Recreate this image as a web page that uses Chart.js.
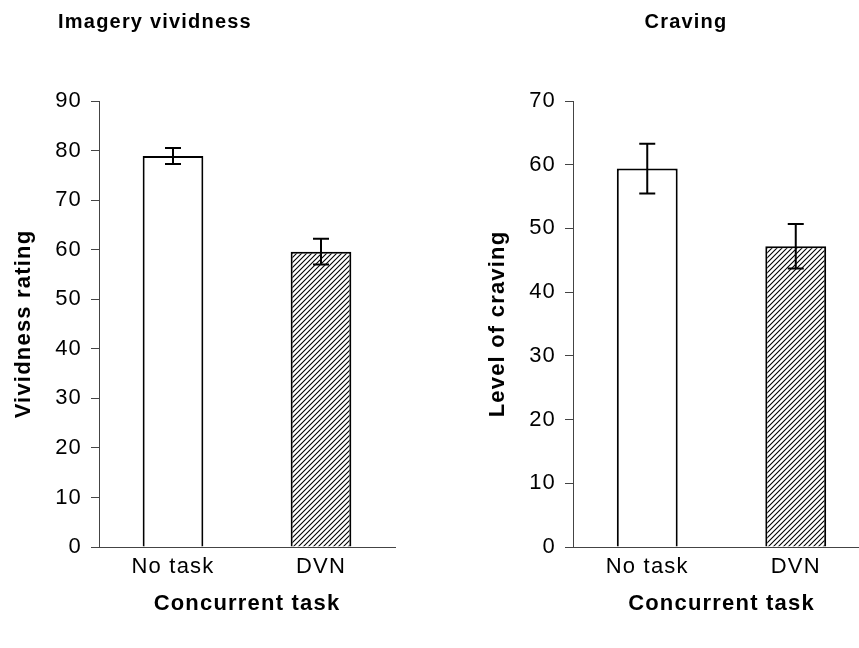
<!DOCTYPE html>
<html>
<head>
<meta charset="utf-8">
<script src="https://cdn.jsdelivr.net/npm/chart.js@4/dist/chart.umd.min.js"></script>
<style>
  html, body { margin: 0; padding: 0; background: #fff; overflow: hidden; width: 859px; height: 648px; }
  .wrap { position: absolute; top: 0; height: 648px; }
  #w1 { left: 0; width: 430px; }
  #w2 { left: 430px; width: 470px; }
</style>
</head>
<body>
<div class="wrap" id="w1"><canvas id="c1"></canvas></div>
<div class="wrap" id="w2"><canvas id="c2"></canvas></div>
<script>
// ---- data ----
const categories = ["No task", "DVN"];
const vividnessTitle = "Imagery vividness";
const cravingTitle = "Craving";
const vividnessMeans = [78.9, 59.6];
const vividnessErrors = [1.6, 2.6];
const cravingMeans = [59.4, 47.2];
const cravingErrors = [3.9, 3.5];
const xAxisLabel = "Concurrent task";
const vividnessAxisLabel = "Vividness rating";
const cravingAxisLabel = "Level of craving";
const vividnessMax = 90;
const cravingMax = 70;
const tickStep = 10;

const FONT = "'Liberation Sans', Arial, sans-serif";
const SPACING = '1.2px';

function hatchPattern() {
  const s = 5;
  const c = document.createElement('canvas');
  c.width = s; c.height = s;
  const g = c.getContext('2d');
  g.fillStyle = '#fff';
  g.fillRect(0, 0, s, s);
  g.strokeStyle = '#000';
  g.lineWidth = 1.1;
  g.beginPath();
  g.moveTo(0, s); g.lineTo(s, 0);
  g.moveTo(-1, 1); g.lineTo(1, -1);
  g.moveTo(s - 1, s + 1); g.lineTo(s + 1, s - 1);
  g.stroke();
  return g.createPattern(c, 'repeat');
}

const spacingPlugin = {
  id: 'textSpacing',
  beforeLayout(chart) { if ('letterSpacing' in chart.ctx) chart.ctx.letterSpacing = SPACING; },
  beforeDraw(chart) { if ('letterSpacing' in chart.ctx) chart.ctx.letterSpacing = SPACING; }
};

const errorBarPlugin = {
  id: 'errorBars',
  afterDatasetsDraw(chart, args, opts) {
    const ctx = chart.ctx;
    const meta = chart.getDatasetMeta(0);
    const y = chart.scales.y;
    const errs = opts.errors;
    const vals = chart.data.datasets[0].data;
    ctx.save();
    ctx.strokeStyle = '#000';
    ctx.lineWidth = 2;
    meta.data.forEach((bar, i) => {
      const x = bar.x;
      const yHi = y.getPixelForValue(vals[i] + errs[i]);
      const yLo = y.getPixelForValue(vals[i] - errs[i]);
      const hw = 8;
      ctx.beginPath();
      ctx.moveTo(x, yHi); ctx.lineTo(x, yLo);
      ctx.moveTo(x - hw, yHi); ctx.lineTo(x + hw, yHi);
      ctx.moveTo(x - hw, yLo); ctx.lineTo(x + hw, yLo);
      ctx.stroke();
    });
    ctx.restore();
  }
};

const titlePlugin = {
  id: 'panelTitle',
  afterDraw(chart, args, opts) {
    const ctx = chart.ctx;
    ctx.save();
    ctx.font = 'bold 20px ' + FONT;
    ctx.fillStyle = '#000';
    ctx.textAlign = 'center';
    ctx.textBaseline = 'middle';
    ctx.fillText(opts.text, opts.x, opts.y);
    ctx.restore();
  }
};

function makeChart(id, means, errs, max, yLabel, title, pad, yWidth, titleX) {
  return new Chart(document.getElementById(id), {
    type: 'bar',
    data: {
      labels: categories,
      datasets: [{
        data: means,
        backgroundColor: ['#ffffff', hatchPattern()],
        borderColor: '#000',
        borderWidth: 2,
        borderSkipped: 'start',
        barPercentage: 0.41,
        categoryPercentage: 1.0
      }]
    },
    options: {
      responsive: true,
      maintainAspectRatio: false,
      animation: false,
      layout: { padding: pad },
      plugins: {
        legend: { display: false },
        tooltip: { enabled: false },
        errorBars: { errors: errs },
        panelTitle: { text: title, x: titleX, y: 22 }
      },
      scales: {
        x: {
          grid: { display: false, drawTicks: false },
          border: { display: true, color: '#444', width: 1 },
          ticks: { color: '#000', font: { family: FONT, size: 22 }, padding: 7 },
          title: { display: true, text: xAxisLabel, color: '#000',
                   font: { family: FONT, size: 22, weight: 'bold', lineHeight: 1 },
                   padding: { top: 0, bottom: 33 } },
          afterFit: s => { s.height = 101; }
        },
        y: {
          min: 0, max: max,
          ticks: { stepSize: tickStep, color: '#000', font: { family: FONT, size: 22 }, padding: 9 },
          grid: { drawOnChartArea: false, drawTicks: true, tickLength: 8, color: '#444', tickColor: '#444' },
          border: { display: true, color: '#444', width: 1 },
          title: { display: true, text: yLabel, color: '#000',
                   font: { family: FONT, size: 22, weight: 'bold', lineHeight: 1 },
                   padding: { top: 13, bottom: 0 } },
          afterFit: s => { s.width = yWidth; }
        }
      }
    },
    plugins: [spacingPlugin, errorBarPlugin, titlePlugin]
  });
}

makeChart('c1', vividnessMeans, vividnessErrors, vividnessMax, vividnessAxisLabel, vividnessTitle,
  { left: 0, right: 35, top: 101, bottom: 0 }, 99, 155);
makeChart('c2', cravingMeans, cravingErrors, cravingMax, cravingAxisLabel, cravingTitle,
  { left: 44, right: 30, top: 101, bottom: 0 }, 99, 256);
</script>
</body>
</html>
